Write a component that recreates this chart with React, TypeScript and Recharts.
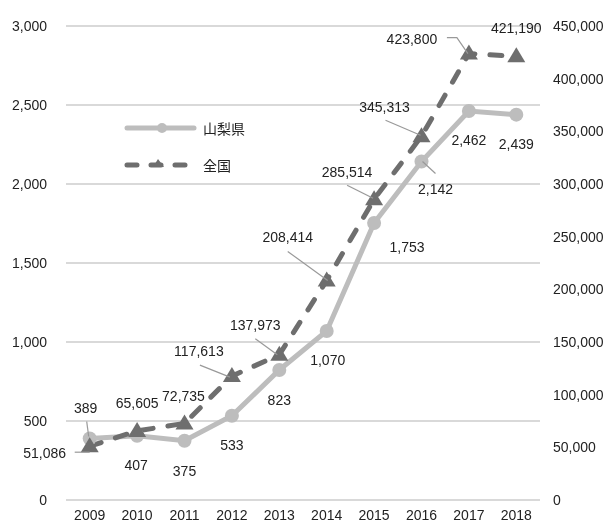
import { LineChart, Line, XAxis, YAxis, CartesianGrid, LabelList } from 'recharts';

const years = ['2009', '2010', '2011', '2012', '2013', '2014', '2015', '2016', '2017', '2018'];
const yamanashi = [389, 407, 375, 533, 823, 1070, 1753, 2142, 2462, 2439];
const zenkoku = [51086, 65605, 72735, 117613, 137973, 208414, 285514, 345313, 423800, 421190];
const leftTicks = [0, 500, 1000, 1500, 2000, 2500, 3000];
const rightTicks = [0, 50000, 100000, 150000, 200000, 250000, 300000, 350000, 400000, 450000];

const LIGHT = '#bdbdbd';
const DARK = '#6e6e6e';
const TEXT = '#222';
const FONT = "'Liberation Sans', Arial, sans-serif";

// label offsets from the point: [dx, dy] and optional leader line points
type Place = { dx: number; dy: number; lead?: number[][] };

const yamaPlace: Place[] = [
  { dx: -4, dy: -31, lead: [[-3, -17], [-1, -2]] },
  { dx: -1, dy: 29 },
  { dx: 0, dy: 30 },
  { dx: 0, dy: 29 },
  { dx: 0, dy: 30 },
  { dx: 1, dy: 29 },
  { dx: 33, dy: 24 },
  { dx: 14, dy: 27, lead: [[14, 12], [1, 0]] },
  { dx: 0, dy: 29 },
  { dx: 0, dy: 29 },
];

const zenPlace: Place[] = [
  { dx: -45, dy: 7, lead: [[-15, 6], [0, 6]] },
  { dx: 0, dy: -28 },
  { dx: -1, dy: -27 },
  { dx: -33, dy: -25, lead: [[-32, -11], [-2, 1]] },
  { dx: -24, dy: -30, lead: [[-24, -16], [-2, 0]] },
  { dx: -39, dy: -43, lead: [[-39, -29], [1, 0]] },
  { dx: -27, dy: -27, lead: [[-27, -14], [-1, -1]] },
  { dx: -37, dy: -29, lead: [[-36, -16], [-1, -1]] },
  { dx: -57, dy: -15, lead: [[-22, -16], [-12, -16], [-1, 0]] },
  { dx: 0, dy: -28 },
];

const data = years.map((year, i) => ({ year, yamanashi: yamanashi[i], zenkoku: zenkoku[i] }));

const fmt = (v: number) => v.toLocaleString('en-US');

function makeLabel(places: Place[]) {
  return (props: any) => {
    const { x, y, value, index } = props;
    const p = places[index];
    if (!p) return null;
    return (
      <g>
        {p.lead && (
          <polyline
            points={p.lead.map(([a, b]) => `${x + a},${y + b}`).join(' ')}
            fill="none"
            stroke="#999"
            strokeWidth={1.2}
          />
        )}
        <text
          x={x + p.dx}
          y={y + p.dy}
          textAnchor="middle"
          dominantBaseline="central"
          fontSize={14}
          fontFamily={FONT}
          fill={TEXT}
        >
          {fmt(value)}
        </text>
      </g>
    );
  };
}

const TriangleDot = (props: any) => {
  const { cx, cy } = props;
  if (cx == null || cy == null) return null;
  return <polygon points={`${cx},${cy - 9} ${cx - 9},${cy + 6} ${cx + 9},${cy + 6}`} fill={DARK} />;
};

function LegendBox() {
  return (
    <svg width={160} height={70} style={{ position: 'absolute', left: 110, top: 110 }}>
      <line x1={17} y1={18} x2={84} y2={18} stroke={LIGHT} strokeWidth={5} strokeLinecap="round" />
      <circle cx={52} cy={18} r={5} fill={LIGHT} />
      <text x={93} y={18} dominantBaseline="central" fontSize={14} fill={TEXT} fontFamily="'Noto Sans CJK JP', sans-serif">山梨県</text>
      <line x1={17} y1={55} x2={84} y2={55} stroke={DARK} strokeWidth={5} strokeLinecap="round" strokeDasharray="10 14" />
      <polygon points="48,49 43,57 54,57" fill={DARK} />
      <text x={93} y={55} dominantBaseline="central" fontSize={14} fill={TEXT} fontFamily="'Noto Sans CJK JP', sans-serif">全国</text>
    </svg>
  );
}

export default function App() {
  const tick = { fontSize: 14, fill: TEXT, fontFamily: FONT };
  return (
    <div style={{ position: 'fixed', left: 0, top: 0, width: 605, height: 524 }}>
      <LineChart width={605} height={524} data={data} margin={{ top: 26, right: 0, bottom: 0, left: 0 }}>
        <CartesianGrid yAxisId="left" vertical={false} stroke="#d9d9d9" strokeWidth={2} />
        <XAxis
          dataKey="year"
          axisLine={false}
          tickLine={false}
          tick={tick}
          height={24}
          tickMargin={4}
          padding={{ left: 23.7, right: 23.7 }}
        />
        <YAxis
          yAxisId="left"
          domain={[0, 3000]}
          ticks={leftTicks}
          tickFormatter={fmt}
          axisLine={false}
          tickLine={false}
          tick={tick}
          width={66}
          tickMargin={13}
        />
        <YAxis
          yAxisId="right"
          orientation="right"
          domain={[0, 450000]}
          ticks={rightTicks}
          tickFormatter={fmt}
          axisLine={false}
          tickLine={false}
          tick={{ ...tick, textAnchor: 'start' }}
          width={65}
          tickMargin={7}
        />
        <Line
          yAxisId="left"
          dataKey="yamanashi"
          stroke={LIGHT}
          strokeWidth={5}
          dot={{ r: 7, fill: LIGHT, stroke: 'none' }}
          activeDot={false}
          isAnimationActive={false}
        >
          <LabelList dataKey="yamanashi" content={makeLabel(yamaPlace)} />
        </Line>
        <Line
          yAxisId="right"
          dataKey="zenkoku"
          stroke={DARK}
          strokeWidth={5}
          strokeDasharray="12 15"
          strokeLinecap="round"
          dot={<TriangleDot />}
          activeDot={false}
          isAnimationActive={false}
        >
          <LabelList dataKey="zenkoku" content={makeLabel(zenPlace)} />
        </Line>
      </LineChart>
      <LegendBox />
    </div>
  );
}
